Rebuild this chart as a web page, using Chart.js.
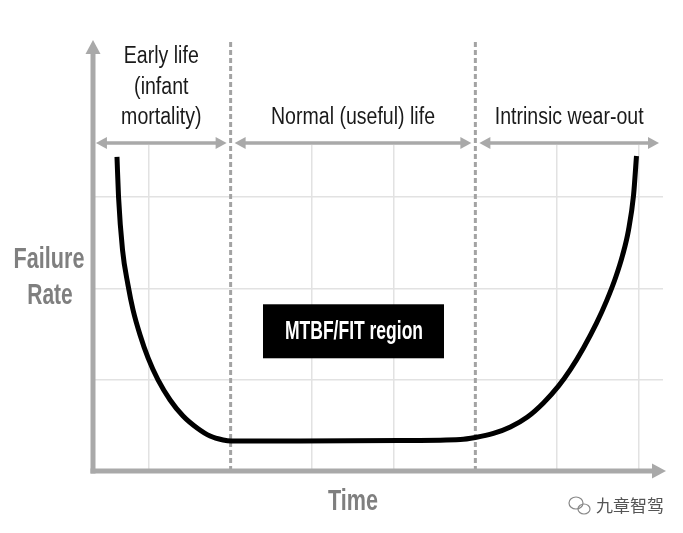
<!DOCTYPE html>
<html>
<head>
<meta charset="utf-8">
<script src="https://cdn.jsdelivr.net/npm/chart.js"></script>
<style>
  html, body { margin: 0; padding: 0; background: #fff; }
  #chart { display: block; }
</style>
</head>
<body>
<canvas id="chart" width="683" height="533"></canvas>
<script>
// bathtub curve (x in grid units, y in grid units)
const curveX = [0.607, 0.626, 0.675, 0.742, 0.804, 0.890, 0.988, 1.110, 1.258, 1.417, 1.589, 1.748, 1.908, 2.006,
                2.853, 4.080, 4.816, 5.000, 5.221, 5.429, 5.638, 5.834, 6.018, 6.166, 6.325, 6.485, 6.607, 6.718, 6.804, 6.877, 6.939, 6.975];
const curveY = [3.439, 3.001, 2.421, 2.037, 1.763, 1.489, 1.238, 0.997, 0.778, 0.602, 0.471, 0.383, 0.340, 0.329,
                0.329, 0.334, 0.345, 0.367, 0.411, 0.482, 0.591, 0.745, 0.929, 1.113, 1.348, 1.619, 1.860, 2.116, 2.361, 2.637, 3.020, 3.450];

const xTicks = [1, 2, 3, 4, 5, 6, 7];
const yTicks = [1, 2, 3];
const dividers = [2, 5];
const regionBounds = [0.3, 2, 5, 7.3];
const regionLabels = [
  ['Early life', '(infant', 'mortality)'],
  ['Normal (useful) life'],
  ['Intrinsic wear-out']
];
const boxLabel = 'MTBF/FIT region';
const boxAt = { x: 3.5, y: 1.53 };
const yTitle = ['Failure', 'Rate'];
const xTitle = 'Time';
const watermark = '九章智驾';

const FONT = '"Liberation Sans", Arial, sans-serif';
const AXIS_GREY = '#a9a9a9';

function arrowHead(ctx, x, y, dir, len, half) {
  ctx.beginPath();
  if (dir === 'up') {
    ctx.moveTo(x, y); ctx.lineTo(x - half, y + len); ctx.lineTo(x + half, y + len);
  } else if (dir === 'right') {
    ctx.moveTo(x, y); ctx.lineTo(x - len, y - half); ctx.lineTo(x - len, y + half);
  } else {
    ctx.moveTo(x, y); ctx.lineTo(x + len, y - half); ctx.lineTo(x + len, y + half);
  }
  ctx.closePath();
  ctx.fill();
}

// narrow text to mimic a condensed face
function narrowText(ctx, text, x, y, sx) {
  ctx.save();
  ctx.translate(x, y);
  ctx.scale(sx, 1);
  ctx.fillText(text, 0, 0);
  ctx.restore();
}

const decorations = {
  id: 'decorations',
  beforeDatasetsDraw(chart) {
    const { ctx, chartArea: a, scales: { x } } = chart;
    ctx.save();
    // dashed region dividers
    ctx.strokeStyle = '#a3a3a3';
    ctx.lineWidth = 3;
    ctx.setLineDash([5, 3]);
    dividers.forEach(v => {
      const px = x.getPixelForValue(v);
      ctx.beginPath();
      ctx.moveTo(px, 42);
      ctx.lineTo(px, a.bottom);
      ctx.stroke();
    });
    ctx.setLineDash([]);
    // axes with arrowheads
    ctx.strokeStyle = AXIS_GREY;
    ctx.fillStyle = AXIS_GREY;
    ctx.lineWidth = 5;
    ctx.beginPath();
    ctx.moveTo(a.left, a.bottom + 2.5);
    ctx.lineTo(a.left, 52);
    ctx.stroke();
    arrowHead(ctx, a.left, 40, 'up', 14, 7.5);
    ctx.beginPath();
    ctx.moveTo(a.left - 2.5, a.bottom);
    ctx.lineTo(a.right - 8, a.bottom);
    ctx.stroke();
    arrowHead(ctx, a.right + 3, a.bottom, 'right', 14, 7.5);
    ctx.restore();
  },
  afterDatasetsDraw(chart) {
    const { ctx, chartArea: a, scales: { x, y } } = chart;
    ctx.save();
    // region arrows + labels
    const ay = 143;
    ctx.strokeStyle = AXIS_GREY;
    ctx.fillStyle = AXIS_GREY;
    ctx.lineWidth = 3.5;
    for (let i = 0; i < regionLabels.length; i++) {
      const x0 = x.getPixelForValue(regionBounds[i]) + 4;
      const x1 = Math.min(x.getPixelForValue(regionBounds[i + 1]), a.right) - 4;
      ctx.beginPath();
      ctx.moveTo(x0 + 8, ay);
      ctx.lineTo(x1 - 8, ay);
      ctx.stroke();
      arrowHead(ctx, x0, ay, 'left', 11, 6);
      arrowHead(ctx, x1, ay, 'right', 11, 6);
    }
    ctx.fillStyle = '#1a1a1a';
    ctx.font = '23px ' + FONT;
    ctx.textAlign = 'center';
    ctx.textBaseline = 'alphabetic';
    regionLabels.forEach((lines, i) => {
      const cx = (x.getPixelForValue(regionBounds[i]) + Math.min(x.getPixelForValue(regionBounds[i + 1]), a.right)) / 2;
      lines.forEach((t, j) => {
        narrowText(ctx, t, cx, 124 - (lines.length - 1 - j) * 30.5, 0.85);
      });
    });
    // black box
    const bx = x.getPixelForValue(boxAt.x), by = y.getPixelForValue(boxAt.y);
    ctx.fillStyle = '#000';
    ctx.fillRect(bx - 90, by - 27, 181, 54);
    ctx.fillStyle = '#fff';
    ctx.font = 'bold 25px ' + FONT;
    ctx.textBaseline = 'middle';
    narrowText(ctx, boxLabel, bx + 1, by + 1, 0.7);
    // axis titles
    ctx.fillStyle = '#7f7f7f';
    ctx.font = 'bold 30px ' + FONT;
    ctx.textBaseline = 'alphabetic';
    narrowText(ctx, yTitle[0], 49, 268, 0.72);
    narrowText(ctx, yTitle[1], 50, 304, 0.7);
    narrowText(ctx, xTitle, x.getPixelForValue(3.5), 510, 0.72);
    // watermark
    ctx.fillStyle = '#555';
    ctx.font = '17px "Noto Sans CJK SC", sans-serif';
    ctx.textAlign = 'left';
    ctx.textBaseline = 'middle';
    ctx.fillText(watermark, 596, 506);
    ctx.strokeStyle = '#888';
    ctx.lineWidth = 1.2;
    ctx.beginPath();
    ctx.ellipse(576, 503, 7, 6, 0, 0, Math.PI * 2);
    ctx.stroke();
    ctx.beginPath();
    ctx.ellipse(584, 509, 6, 5, 0, 0, Math.PI * 2);
    ctx.stroke();
    ctx.restore();
  }
};

new Chart(document.getElementById('chart'), {
  type: 'line',
  data: {
    datasets: [{
      data: curveX.map((v, i) => ({ x: v, y: curveY[i] })),
      borderColor: '#000',
      borderWidth: 5,
      pointRadius: 0,
      cubicInterpolationMode: 'monotone',
      fill: false
    }]
  },
  options: {
    responsive: false,
    animation: false,
    devicePixelRatio: 1,
    layout: { padding: { left: 93, right: 20, top: 145, bottom: 62 } },
    plugins: { legend: { display: false }, tooltip: { enabled: false } },
    scales: {
      x: {
        type: 'linear',
        min: 0.313,
        max: 7.3,
        afterBuildTicks: s => { s.ticks = xTicks.map(v => ({ value: v })); },
        ticks: { display: false },
        border: { display: false },
        grid: {
          drawTicks: false,
          lineWidth: 1.5,
          color: c => dividers.includes(c.tick && c.tick.value) ? 'rgba(0,0,0,0)' : '#e2e2e2'
        }
      },
      y: {
        type: 'linear',
        min: 0,
        max: 3.57,
        afterBuildTicks: s => { s.ticks = yTicks.map(v => ({ value: v })); },
        ticks: { display: false },
        border: { display: false },
        grid: { drawTicks: false, lineWidth: 1.5, color: '#e2e2e2' }
      }
    }
  },
  plugins: [decorations]
});
</script>
</body>
</html>
